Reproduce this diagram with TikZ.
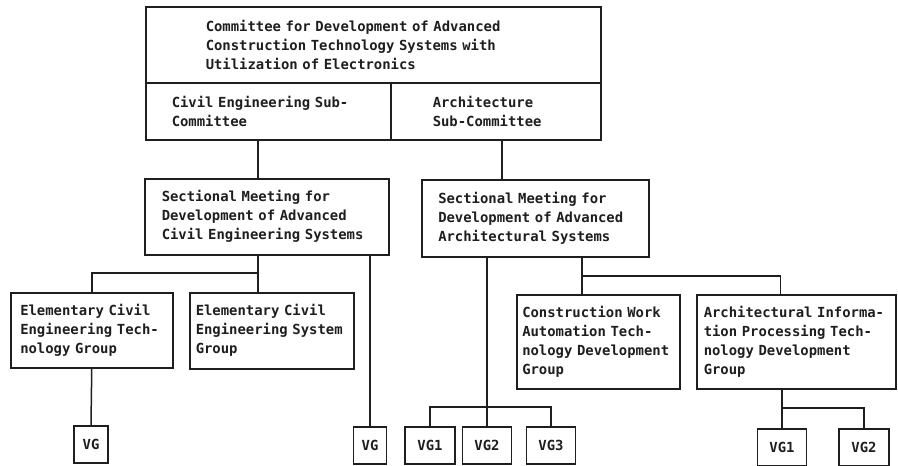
\documentclass[tikz,border=0pt]{standalone}
\usepackage{fontspec}
\newfontfamily\printfont{DejaVu Sans Mono}
\usepackage{xcolor}
\definecolor{inkblack}{RGB}{30, 30, 30}
\usepackage{tikz}
\usetikzlibrary{positioning, calc}

\tikzset{
  orgbox/.style={draw=inkblack, line width=1.5pt, anchor=north west, align=left, inner sep=0pt,
    text=inkblack, font=\printfont\bfseries\fontsize{13.9}{19}\selectfont},
  vgbox/.style={draw=inkblack, line width=1.5pt, anchor=north, align=center, inner sep=0pt,
    minimum height=37pt, text=inkblack, font=\printfont\bfseries\fontsize{13.9}{19}\selectfont},
  link/.style={draw=inkblack, line width=1.5pt},
}

\begin{document}
\begin{tikzpicture}[x=1pt, y=-1pt]
    \useasboundingbox (0,0) rectangle (898,466);
    \node[orgbox, minimum width=455pt, minimum height=76pt, text width=335pt] (title) at (145,6)
        {Committee for Development of Advanced\\Construction Technology Systems with\\Utilization of Electronics};
    \node[orgbox, minimum width=245pt, minimum height=57pt, text width=193pt] (civsub) at (145,82)
        {Civil Engineering Sub-\\Committee};
    \node[orgbox, minimum width=210pt, minimum height=57pt, text width=126pt] (archsub) at (390,82)
        {Architecture\\Sub-Committee};
    \node[orgbox, minimum width=244pt, minimum height=76pt, text width=210pt] (civsec) at (144,178)
        {Sectional Meeting for\\Development of Advanced\\Civil Engineering Systems};
    \node[orgbox, minimum width=227pt, minimum height=77pt, text width=194pt] (archsec) at (421,179)
        {Sectional Meeting for\\Development of Advanced\\Architectural Systems};
    \node[orgbox, minimum width=162pt, minimum height=75pt, text width=143pt] (elemtech) at (10,292)
        {Elementary Civil\\Engineering Tech-\\nology Group};
    \node[orgbox, minimum width=164pt, minimum height=76pt, text width=152pt] (elemsys) at (189,292)
        {Elementary Civil\\Engineering System\\Group};
    \node[orgbox, minimum width=163pt, minimum height=94pt, text width=152pt] (construct) at (516,294)
        {Construction Work\\Automation Tech-\\nology Development\\Group};
    \node[orgbox, minimum width=199pt, minimum height=94pt, text width=185pt] (archinfo) at (696,294)
        {Architectural Informa-\\tion Processing Tech-\\nology Development\\Group};

    \node[vgbox, minimum width=34pt] (vga) at (91,425) {VG};
    \node[vgbox, minimum width=33pt] (vgmid) at (370,426) {VG};
    \node[vgbox, minimum width=50pt] (vgbone) at (430,426) {VG1};
    \node[vgbox, minimum width=49pt] (vgbtwo) at (487,426) {VG2};
    \node[vgbox, minimum width=49pt] (vgbthree) at (551,426) {VG3};
    \node[vgbox, minimum width=49pt] (vgcone) at (782,428) {VG1};
    \node[vgbox, minimum width=50pt] (vgctwo) at (864,428) {VG2};

    \coordinate (cjoin) at (258,273);
    \coordinate (ajoin) at (502,160);
    \coordinate (bjoin) at (582,276);

    \draw[link] (civsub.south -| cjoin) -- (civsec.north -| cjoin);
    \draw[link] (archsub.south -| ajoin) -- (archsec.north -| ajoin);
    \draw[link] (civsec.south -| cjoin) -- (cjoin) -| (elemtech.north);
    \draw[link] (cjoin) -- (elemsys.north -| cjoin);
    \draw[link] (elemtech.south) -- (vga.north);
    \draw[link] (civsec.south -| vgmid.north) -- (vgmid.north);
    \draw[link] (archsec.south -| vgbtwo.north) -- (vgbtwo.north);
    \draw[link] (vgbone.north) -- ++(0,-19) -| (vgbthree.north);
    \draw[link] (archsec.south -| bjoin) -- (bjoin) -- (construct.north -| bjoin);
    \draw[link] (bjoin) -| ([xshift=-16pt]archinfo.north);
    \draw[link] (archinfo.south -| vgcone.north) -- (vgcone.north);
    \draw[link] (vgcone.north) ++(0,-20) -| (vgctwo.north);
\end{tikzpicture}
\end{document}
